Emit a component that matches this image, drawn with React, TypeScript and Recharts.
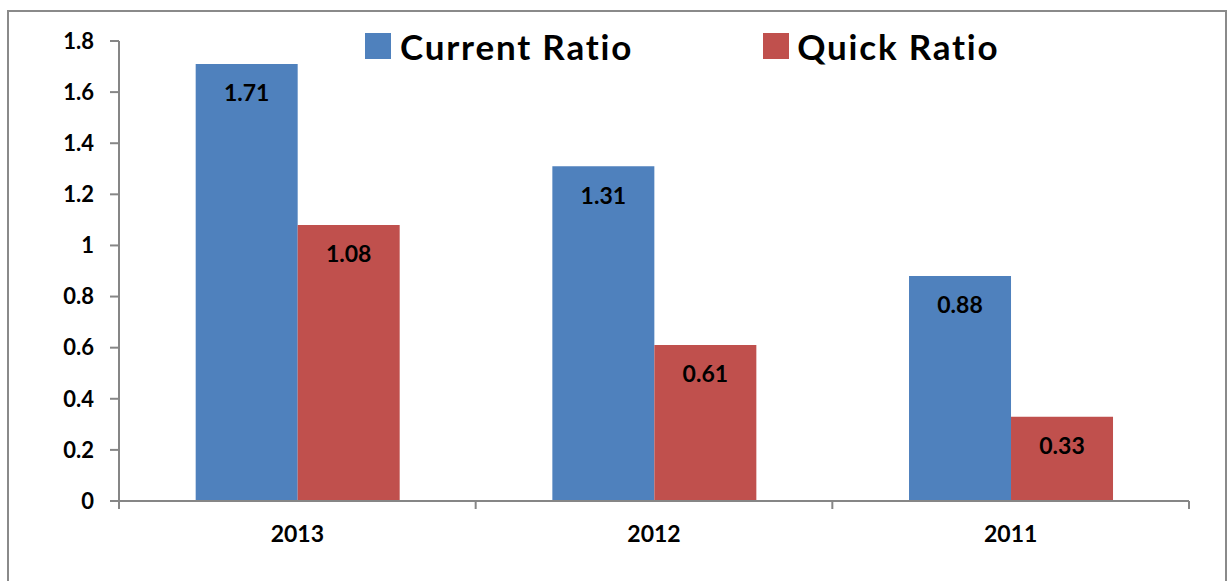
import React from "react";
import { BarChart, Bar, XAxis, YAxis, LabelList } from "recharts";

const years = ["2013", "2012", "2011"];
const currentRatio = [1.71, 1.31, 0.88];
const quickRatio = [1.08, 0.61, 0.33];
const yTicks = [0, 0.2, 0.4, 0.6, 0.8, 1, 1.2, 1.4, 1.6, 1.8];
const yTickLabels = ["0", "0.2", "0.4", "0.6", "0.8", "1", "1.2", "1.4", "1.6", "1.8"];
const edgeTicks = [0, 1, 2, 3];

const data = years.map((y, i) => ({ year: y, current: currentRatio[i], quick: quickRatio[i], idx: i + 0.5 }));

const FONT = "Lato, 'Open Sans', sans-serif";
const BLUE = "#4F81BD";
const RED = "#C0504D";
const AXIS = "#868686";

const LegendBox = () => (
  <div style={{ position: "absolute", left: 365, top: 28, display: "flex", alignItems: "center", fontFamily: FONT, fontWeight: 700, fontSize: 35, letterSpacing: 1.8, color: "#000", lineHeight: "36px" }}>
    <span style={{ display: "inline-block", width: 26, height: 26, background: BLUE, marginRight: 9 }} />
    <span style={{ marginRight: 130 }}>Current Ratio</span>
    <span style={{ display: "inline-block", width: 26, height: 26, background: RED, marginRight: 8 }} />
    <span>Quick Ratio</span>
  </div>
);

const EmptyTick = () => <g />;

export default function App() {
  return (
    <div style={{ position: "absolute", left: 0, top: 0, width: 1227, height: 581, background: "#fff", overflow: "hidden" }}>
      <div style={{ position: "absolute", left: 7, top: 10, width: 1216, height: 600, border: "2px solid #8a8a8a" }} />
      <div style={{ position: "absolute", left: 0, top: 0 }}>
        <BarChart width={1227} height={581} data={data} margin={{ top: 41, right: 38, left: 0, bottom: 0 }} barGap={0} barCategoryGap="21.5%">
          <XAxis xAxisId={0} type="number" dataKey="idx" domain={[0, 3]} ticks={edgeTicks} interval={0} allowDataOverflow
            tick={EmptyTick} tickLine={{ stroke: AXIS, strokeWidth: 2 }} axisLine={{ stroke: AXIS, strokeWidth: 2 }} tickSize={8} height={1} />
          <XAxis xAxisId={1} dataKey="year" height={79} tickLine={false} axisLine={false} tickSize={8} tickMargin={16}
            tick={{ fill: "#000", fontFamily: FONT, fontWeight: 700, fontSize: 23 }} />
          <YAxis width={119} domain={[0, 1.8]} ticks={yTicks} interval={0} tickFormatter={(v: number) => yTickLabels[yTicks.indexOf(v)] ?? String(v)}
            axisLine={{ stroke: AXIS, strokeWidth: 2 }} tickLine={{ stroke: AXIS, strokeWidth: 2 }} tickSize={9} tickMargin={16}
            tick={{ fill: "#000", fontFamily: FONT, fontWeight: 700, fontSize: 22 }} />
          <Bar xAxisId={1} dataKey="current" fill={BLUE} isAnimationActive={false}>
            <LabelList dataKey="current" position="insideTop" offset={21} fill="#000" style={{ fontFamily: FONT, fontWeight: 700, fontSize: 23 }} />
          </Bar>
          <Bar xAxisId={1} dataKey="quick" fill={RED} isAnimationActive={false}>
            <LabelList dataKey="quick" position="insideTop" offset={21} fill="#000" style={{ fontFamily: FONT, fontWeight: 700, fontSize: 23 }} />
          </Bar>
        </BarChart>
      </div>
      <LegendBox />
    </div>
  );
}
